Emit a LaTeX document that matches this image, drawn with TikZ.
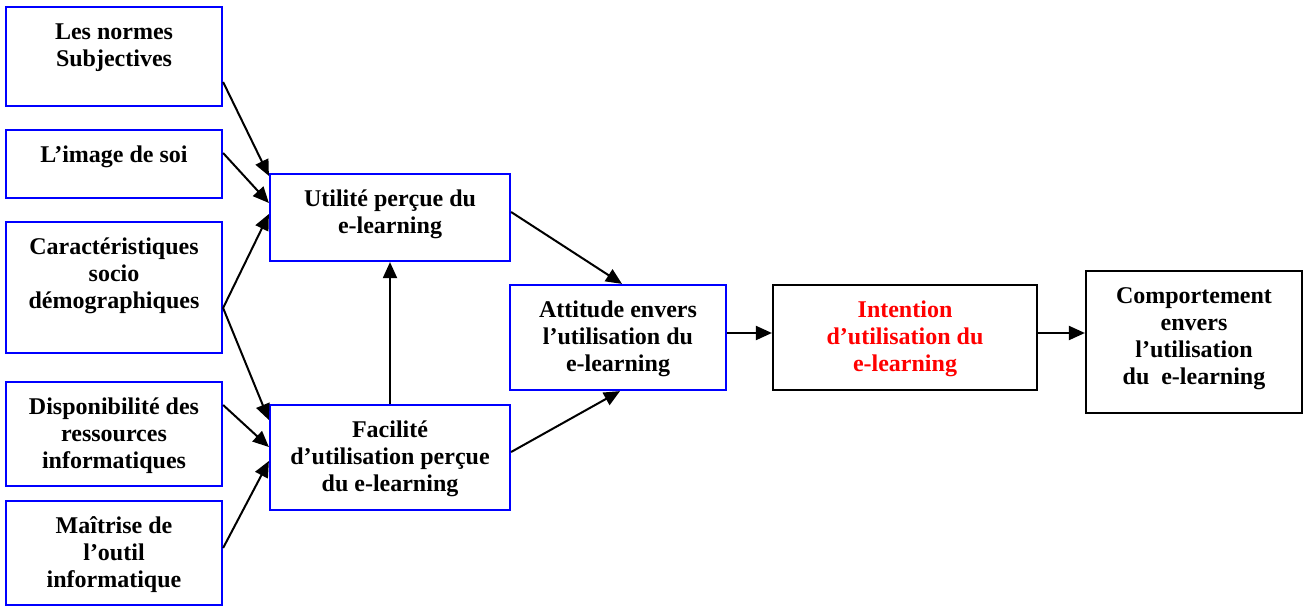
\documentclass[tikz,border=0pt]{standalone}
\usepackage{fontspec}
\setmainfont{Liberation Serif}
\usetikzlibrary{arrows.meta,calc}
% invisible strut that fixes the height of a box's first text line
\newcommand\firstline{\rule{0pt}{20pt}}
\begin{document}
\begin{tikzpicture}[x=1pt,y=-1pt,
  bluebox/.style={draw={rgb,255:red,0;green,0;blue,255}, line width=2.2pt, inner sep=0pt},
  blackbox/.style={draw=black, line width=2.2pt, inner sep=0pt},
  txt/.style={anchor=north, align=center, inner sep=0pt,
    font=\fontsize{24}{27}\selectfont\bfseries},
  conn/.style={line width=2pt, -{Triangle[length=16pt,width=14pt]}}
]
\useasboundingbox (0,0) rectangle (1309,607);

% ---- factor boxes on the left ----
\node[bluebox, minimum width=216pt, minimum height=99pt]  (b1) at (114,56.5) {};
\node[bluebox, minimum width=216pt, minimum height=68pt]  (b2) at (114,164) {};
\node[bluebox, minimum width=216pt, minimum height=131pt] (b3) at (114,287.5) {};
\node[bluebox, minimum width=216pt, minimum height=104pt] (b4) at (114,434) {};
\node[bluebox, minimum width=216pt, minimum height=104pt] (b5) at (114,553) {};

% ---- perceived usefulness / ease of use ----
\node[bluebox, minimum width=240pt, minimum height=87pt]  (u) at (390,217.5) {};
\node[bluebox, minimum width=240pt, minimum height=105pt] (f) at (390,457.5) {};

% ---- attitude, intention, behaviour ----
\node[bluebox, minimum width=216pt, minimum height=105pt]  (a) at (618,337.5) {};
\node[blackbox, minimum width=264pt, minimum height=105pt] (i) at (905,337.5) {};
\node[blackbox, minimum width=216pt, minimum height=142pt] (c) at (1194,342) {};

% ---- box texts ----
\node[txt] (t1) at ($(b1.north)+(0,13)$) {\firstline Les normes\\Subjectives};
\node[txt] (t2) at ($(b2.north)+(0,13)$) {\firstline L’image de soi};
\node[txt] (t3) at ($(b3.north)+(0,13)$) {\firstline Caractéristiques\\socio\\démographiques};
\node[txt] (t4) at ($(b4.north)+(0,13)$) {\firstline Disponibilité des\\ressources\\informatiques};
\node[txt] (t5) at ($(b5.north)+(0,13)$) {\firstline Maîtrise de\\l’outil\\informatique};
\node[txt] (tu) at ($(u.north)+(0,13)$) {\firstline Utilité perçue du\\e-learning};
\node[txt] (tf) at ($(f.north)+(0,13)$) {\firstline Facilité\\d’utilisation perçue\\du e-learning};
\node[txt] (ta) at ($(a.north)+(0,13)$) {\firstline Attitude envers\\l’utilisation du\\e-learning};
\node[txt, text=red] (ti) at ($(i.north)+(0,13)$) {\firstline Intention\\d’utilisation du\\e-learning};
\node[txt] (tc) at ($(c.north)+(0,13)$) {\firstline Comportement\\envers\\l’utilisation\\du~~e-learning};

% ---- connectors ----
\draw[conn] ($(b1.east)+(0,25.5)$) -- ($(u.north west)+(0,3)$);
\draw[conn] ($(b2.east)+(0,-11)$) -- ($(u.west)+(0,-14.5)$);
\coordinate (split) at ($(b3.east)+(0,20.5)$);
\draw[conn] (split) -- ($(u.west)+(0,-3.5)$);
\draw[conn] (split) -- ($(f.west)+(0,-37.5)$);
\draw[conn] ($(b4.east)+(0,-29)$) -- ($(f.west)+(0,-10.5)$);
\draw[conn] ($(b5.east)+(0,-5)$) -- ($(f.west)+(0,3.5)$);
\draw[conn] (f.north) -- (u.south);
\draw[conn] ($(u.east)+(0,-5.5)$) -- ($(a.north)+(4,0)$);
\draw[conn] ($(f.east)+(0,-5.5)$) -- ($(a.south)+(2,0)$);
\draw[conn] ($(a.east)+(0,-4.5)$) -- ($(i.west)+(0,-4.5)$);
\draw[conn] ($(i.east)+(0,-4.5)$) -- ($(c.west)+(0,-9)$);
\end{tikzpicture}
\end{document}
